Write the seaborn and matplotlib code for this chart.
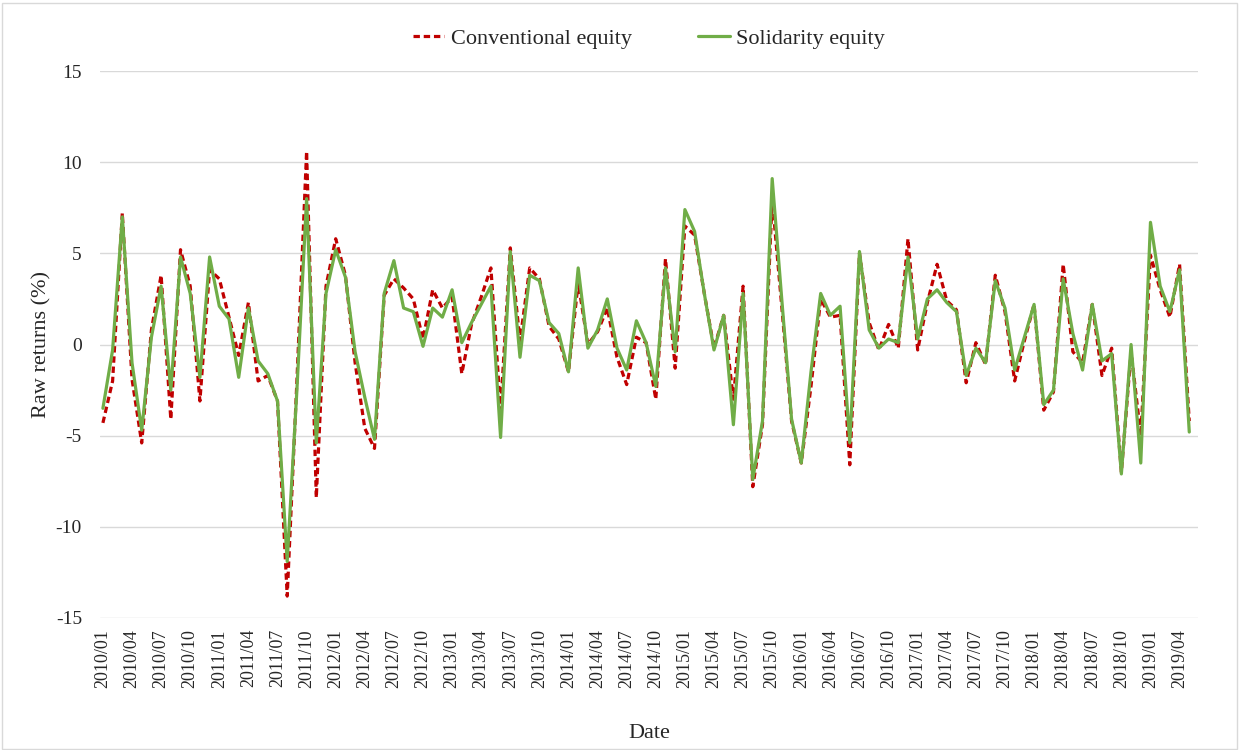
import matplotlib
matplotlib.use('Agg')
import matplotlib.pyplot as plt
from matplotlib.patches import Rectangle
import pandas as pd
import seaborn as sns

# monthly raw returns (%), 2010/01 - 2019/05
conventional = [-4.3, -2.0, 7.2, -1.9, -5.4, 0.8, 3.8, -4.1, 5.2, 3.2, -3.1, 4.1,
                3.6, 1.5, -0.6, 2.3, -2.0, -1.7, -3.1, -13.8, -2.0, 10.6, -8.4, 3.2,
                5.8, 3.8, -1.0, -4.6, -5.7, 2.7, 3.6, 3.1, 2.5, 0.3, 3.0, 2.0,
                2.6, -1.6, 1.1, 2.6, 4.2, -3.6, 5.3, 0.2, 4.2, 3.6, 1.0, 0.3,
                -1.5, 3.4, 0.0, 0.7, 2.0, -0.7, -2.2, 0.4, 0.1, -3.0, 4.7, -1.3,
                6.5, 6.0, 2.8, -0.2, 1.6, -3.0, 3.2, -7.8, -4.4, 8.0, 2.0, -4.2,
                -6.5, -2.3, 2.5, 1.5, 1.6, -6.6, 5.0, 1.2, -0.3, 1.1, -0.2, 5.8,
                -0.3, 2.3, 4.4, 2.4, 1.9, -2.1, 0.1, -1.1, 3.8, 1.8, -2.0, 0.2,
                2.2, -3.6, -2.6, 4.4, -0.4, -1.0, 2.2, -1.7, -0.2, -7.0, -0.4, -5.0,
                4.9, 3.0, 1.5, 4.4, -4.2]
solidarity = [-3.5, -0.3, 7.0, -1.0, -4.7, 0.4, 3.2, -2.5, 4.8, 2.8, -1.8, 4.8,
              2.1, 1.4, -1.8, 2.0, -0.9, -1.6, -3.1, -11.9, -2.5, 8.0, -5.4, 2.8,
              5.2, 3.7, -0.4, -2.9, -5.2, 2.8, 4.6, 2.0, 1.8, -0.1, 2.0, 1.5,
              3.0, 0.1, 1.2, 2.2, 3.2, -5.1, 5.1, -0.7, 3.8, 3.5, 1.2, 0.6,
              -1.5, 4.2, -0.2, 0.8, 2.5, -0.2, -1.4, 1.3, 0.1, -2.3, 4.2, -0.4,
              7.4, 6.2, 2.8, -0.3, 1.6, -4.4, 2.8, -7.4, -4.2, 9.1, 2.4, -4.1,
              -6.5, -1.5, 2.8, 1.6, 2.1, -5.4, 5.1, 0.8, -0.2, 0.3, 0.1, 4.8,
              0.3, 2.5, 3.0, 2.3, 1.8, -1.7, -0.2, -1.0, 3.5, 2.0, -1.4, 0.4,
              2.2, -3.3, -2.5, 3.6, 0.6, -1.4, 2.2, -0.9, -0.5, -7.1, 0.0, -6.5,
              6.7, 3.2, 1.8, 4.1, -4.8]
dates = pd.date_range('2010-01-01', periods=len(conventional), freq='MS').strftime('%Y/%m')

df = pd.DataFrame({'t': range(len(dates)), 'date': dates,
                   'Conventional equity': conventional,
                   'Solidarity equity': solidarity})
long = df.melt(id_vars=['t', 'date'], var_name='series', value_name='ret')

sns.set_style('white')
plt.rcParams['font.family'] = ['Liberation Serif', 'DejaVu Serif']

fig = plt.figure(figsize=(12.39, 7.5), dpi=100)
ax = fig.add_axes([100 / 1239, 1 - 618 / 750, 1098 / 1239, 547 / 750])

sns.lineplot(x='t', y='ret', hue='series', style='series', data=long, ax=ax,
             palette={'Conventional equity': '#C00000', 'Solidarity equity': '#70AD47'},
             dashes={'Conventional equity': (2, 1.2), 'Solidarity equity': ''},
             linewidth=2.3)

ax.set_xlim(-0.3, 112.9)
ax.set_ylim(-15, 15)
ax.set_yticks(range(-15, 16, 5))
ax.set_yticklabels([str(v) for v in range(-15, 16, 5)], fontsize=14)
ax.set_xticks(df['t'][::3])
ax.set_xticklabels(df['date'][::3], rotation=90, fontsize=13)
ax.tick_params(axis='x', length=0, pad=8)
ax.tick_params(axis='y', length=0, pad=13)
ax.grid(axis='y', color='#d9d9d9', linewidth=1)
for s in ax.spines.values():
    s.set_visible(False)

ax.set_xlabel('Date', fontsize=16, labelpad=26)
ax.set_ylabel('Raw returns (%)', fontsize=16)
ax.yaxis.set_label_coords(-0.044, 0.5)

ax.legend(loc='upper center', bbox_to_anchor=(0.5, 1.115), ncol=2, frameon=False,
          fontsize=16, handlelength=1.4, columnspacing=3.0, handletextpad=0.3)

fig.patches.append(Rectangle((0.002, 0.002), 0.996, 0.994, transform=fig.transFigure,
                             fill=False, edgecolor='#d9d9d9', linewidth=1))

fig.savefig('out.png', dpi=100)
